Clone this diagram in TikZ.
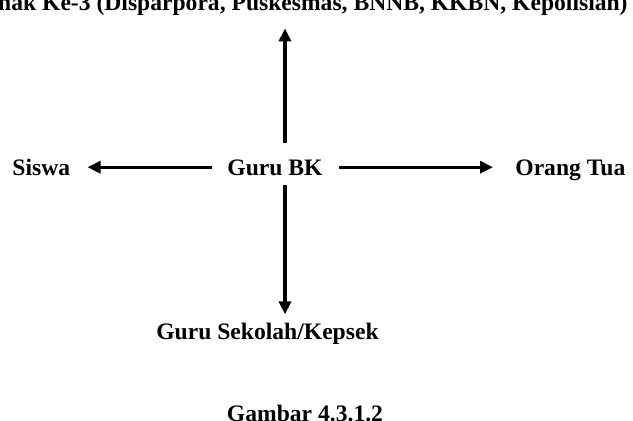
\documentclass[tikz,border=0pt]{standalone}
\usepackage{fontspec}
\setmainfont{Liberation Serif}
\usepackage{tikz}
\usetikzlibrary{arrows.meta}

\tikzset{
  lbl/.style={font=\fontsize{11.8}{14}\selectfont\bfseries, inner sep=0pt, text height=7.8pt, text depth=0pt},
  arr/.style={-{Triangle[length=6.5pt,width=6pt]}, line width=1.7pt}
}

\begin{document}
\begin{tikzpicture}[x=0.5pt,y=-0.5pt]
% Frame (page is cut like the scan)
\useasboundingbox (0,0) rectangle (633,420);
\clip (0,0) rectangle (633,420);
% Labels
\node[lbl, anchor=base east] (pihak) at (628,10) {Pihak Ke-3 (Disparpora, Puskesmas, BNNB, KKBN, Kepolisian)};
\node[lbl, anchor=base] (guru) at (275,175) {Guru BK};
\node[lbl, anchor=base west] (siswa) at (12,175) {Siswa};
\node[lbl, anchor=base west] (ortu) at (515,175) {Orang Tua};
\node[lbl, anchor=base] (sekolah) at (267.5,339) {Guru Sekolah/Kepsek};
\node[lbl, anchor=base] (gambar) at (305,421.5) {Gambar 4.3.1.2};
\coordinate (vx) at (285,0);
% Arrows out of Guru BK
\draw[arr, shorten <=8pt, shorten >=9pt] (guru.north -| vx) -- (pihak.south -| vx);
\draw[arr, shorten <=5pt, shorten >=4.3pt] (guru.south -| vx) -- (sekolah.north -| vx);
\draw[arr, shorten <=7.5pt, shorten >=8.5pt] (guru.west) -- (siswa.east);
\draw[arr, shorten <=8pt, shorten >=11pt] (guru.east) -- (ortu.west);
\end{tikzpicture}
\end{document}
